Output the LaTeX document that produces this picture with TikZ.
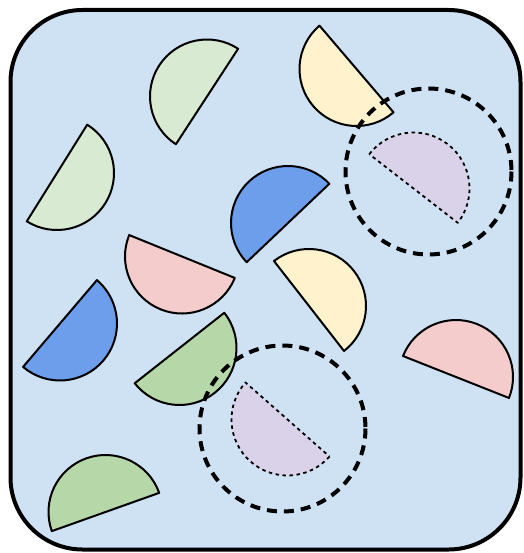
\documentclass[tikz,border=0pt]{standalone}
\usepackage{xcolor}
\usepackage{tikz}
\definecolor{bgblue}{HTML}{CFE2F3}
\definecolor{ltgreen}{HTML}{D9EAD3}
\definecolor{midgreen}{HTML}{B6D7A8}
\definecolor{ltyellow}{HTML}{FFF2CC}
\definecolor{ltpink}{HTML}{F4CCCC}
\definecolor{midblue}{HTML}{6D9EEB}
\definecolor{ltpurple}{HTML}{D9D2E9}

\begin{document}
\begin{tikzpicture}[
  x=1pt, y=-1pt,
  frame/.style    = {draw=black, fill=bgblue, line width=4pt,
                     rounded corners=72pt},
  halfdisk/.style = {draw=black, fill=#1, line width=2pt, line join=round},
  ghost/.style    = {draw=black, fill=ltpurple, line width=1.8pt,
                     dash pattern=on 3.5pt off 3.5pt, line join=round},
  ring/.style     = {draw=black, line width=4pt, dash pattern=on 10pt off 7pt},
]
\useasboundingbox (0,0) rectangle (523,553);
\draw[frame] (10.5,10) rectangle (520.5,549.5);
% half disks: centre x / centre y / start angle / colour
\foreach \cx/\cy/\ang/\col in {
    207/96.5/123.1/ltgreen, 57/173/-58/ltgreen, 288/223/136.5/midblue,
    356.5/69/49.5/ltyellow, 182/256.5/22.1/ltpink, 309/306/-127.9/ltyellow,
    60/323.5/-49.6/midblue, 179.5/348/-38.2/midgreen, 456/377/-158.4/ltpink,
    105.5/512/160.4/midgreen}
  \draw[halfdisk=\col] (\cx,\cy) ++(\ang:57) arc[start angle=\ang, delta angle=180, radius=57] -- cycle;
% dashed half disks and rings
\draw[ghost] (413.5,188.5) ++(-142.2:56) arc[start angle=-142.2, delta angle=180, radius=56] -- cycle;
\draw[ghost] (287.5,419.5) ++(41.4:56) arc[start angle=41.4, delta angle=180, radius=56] -- cycle;
\draw[ring] (428.5,171.5) circle[radius=83];
\draw[ring] (282.5,428.5) circle[radius=83];
\end{tikzpicture}
\end{document}
